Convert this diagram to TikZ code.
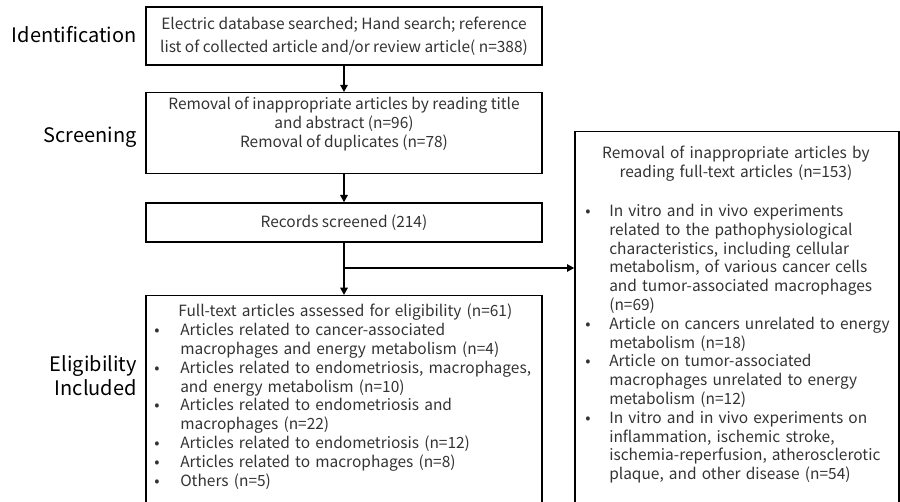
\documentclass[tikz,border=0pt]{standalone}
\usepackage{fontspec}
\setmainfont{Noto Sans CJK JP}
\usetikzlibrary{arrows.meta,positioning}

\newcommand{\bodyfont}{\fontsize{11.6pt}{14.1pt}\selectfont\hyphenpenalty=10000}
\newcommand{\stagefont}{\fontsize{15pt}{18pt}\selectfont}
% bullet line: #1 = bullet column, #2 = text
\newcommand{\bitem}[2]{\par\noindent\hangindent=#1\hangafter=1\makebox[#1][l]{\textbullet}#2\par}

\begin{document}
\begin{tikzpicture}[x=0.75pt, y=-0.75pt,
    box/.style={draw, line width=1pt, rectangle, text=black!80, font=\bodyfont, align=center, minimum width=297pt},
    boxtext/.style={text=black!80, font=\bodyfont, align=left, inner sep=0pt, anchor=base west},
    stage/.style={font=\stagefont, align=right, inner sep=0pt},
    flow/.style={-{Triangle[length=5.5pt,width=5.5pt]}, line width=1.5pt}]
    \useasboundingbox (0,0) rectangle (900,502);

    % left column: stage names
    \node[stage, anchor=base east] (identlab) at (137,43) {Identification};
    \node[stage, anchor=base east] (screenlab) at (137,143) {Screening};
    \node[stage, anchor=east] (eliglab) at (137,376) {Eligibility\\Included};

    % main column
    \node[box, minimum height=43.5pt] (ident) at (344,36) {Electric database searched; Hand search; reference\\[3pt]list of collected article and/or review article( n=388)};
    \node[box, minimum height=58.5pt] (screen) at (344,133) {Removal of inappropriate articles by reading title\\and abstract (n=96)\\Removal of duplicates (n=78)\\[2pt]\mbox{}};
    \node[box, minimum height=29.25pt] (records) at (344,222.5) {Records screened (214)};
    \node[box, anchor=north, minimum height=170pt] (elig) at (344,295) {};
    \node[boxtext, text width=286.5pt] (eligtext) at (154,317) {%
        {\centering Full-text articles assessed for eligibility (n=61)\par}
        \bitem{19.5pt}{Articles related to cancer-associated\newline macrophages and energy metabolism (n=4)}
        \bitem{19.5pt}{Articles related to endometriosis, macrophages,\newline and energy metabolism (n=10)}
        \bitem{19.5pt}{Articles related to endometriosis and\newline macrophages (n=22)}
        \bitem{19.5pt}{Articles related to endometriosis (n=12)}
        \bitem{19.5pt}{Articles related to macrophages (n=8)}
        \bitem{19.5pt}{Others (n=5)}};

    % excluded articles
    \node[box, anchor=north, minimum width=243pt, minimum height=300pt] (excl) at (737,131) {};
    \node[boxtext, text width=234pt] (excltext) at (585,159) {%
        {\centering\hspace*{-8pt}Removal of inappropriate articles by\\\hspace*{-8pt}reading full-text articles (n=153)\par}
        \vspace{15pt}
        \bitem{18pt}{In vitro and in vivo experiments\newline related to the pathophysiological\newline characteristics, including cellular\newline metabolism, of various cancer cells\newline and tumor-associated macrophages\newline (n=69)}
        \bitem{18pt}{Article on cancers unrelated to energy\newline metabolism (n=18)}
        \bitem{18pt}{Article on tumor-associated\newline macrophages unrelated to energy\newline metabolism (n=12)}
        \bitem{18pt}{In vitro and in vivo experiments on\newline inflammation, ischemic stroke,\newline ischemia-reperfusion, atherosclerotic\newline plaque, and other disease (n=54)}};

    \coordinate (split) at (344,268);

    \draw[flow] (ident) -- (screen);
    \draw[flow] (screen) -- (records);
    \draw[flow] (records) -- (elig);
    \draw[flow] (split) -- (split -| excl.west);
\end{tikzpicture}
\end{document}
